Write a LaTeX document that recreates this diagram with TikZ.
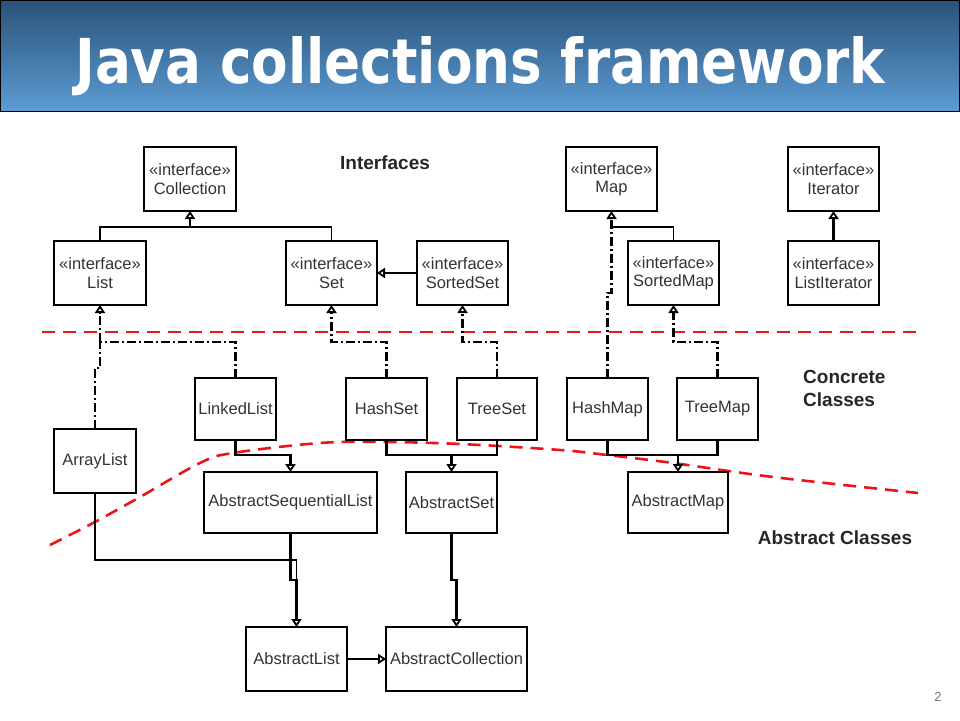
\documentclass[tikz,border=0pt]{standalone}
\usepackage{fontspec}
\setmainfont{Liberation Sans}
\newfontfamily\titlefont{DejaVu Sans}
\usetikzlibrary{arrows.meta,calc}
\definecolor{tbtop}{RGB}{42,82,120}
\definecolor{tbbot}{RGB}{92,156,212}
\definecolor{sepred}{RGB}{235,20,25}
\begin{document}
\begin{tikzpicture}[x=1pt,y=-1pt,
  box/.style={draw, line width=2.4pt, inner sep=0pt, outer sep=0pt, align=center,
    font=\fontsize{16.5}{18.5}\selectfont, text=black!80},
  tip/.style={-{Triangle[open,length=8pt,width=10pt,line width=1.8pt]}},
  thinconn/.style={line width=1.4pt},
  thickconn/.style={line width=2.4pt},
  real/.style={line width=2.4pt, dash pattern=on 9pt off 3pt on 2pt off 3pt},
  sep/.style={sepred, line width=2.6pt, dash pattern=on 13pt off 8pt},
  lbl/.style={font=\bfseries\fontsize{19}{23}\selectfont, text=black!85, inner sep=0pt, align=left}]
\useasboundingbox (0,0) rectangle (960,720);
% title bar
\shade[top color=tbtop, bottom color=tbbot] (0,0) rectangle (959,111);
\draw[line width=1pt] (0.5,0.5) rectangle (959.5,111);
\node[anchor=base west, text=white, inner sep=0pt] (title) at (75,83)
  {\resizebox{810pt}{47pt}{\titlefont\bfseries Java collections framework}};
\node[text=black!55, font=\fontsize{13}{15}\selectfont, inner sep=0pt] (pg) at (938,697) {2};
% separators
\draw[sep] (42,332) -- (918,332);
\draw[sep] plot[smooth, tension=0.6] coordinates {(50,545) (93,523) (140,497) (200,463) (233,453) (320,443) (383,442) (460,444) (560,450) (607,455) (673,463) (773,477) (918,493)};
% section labels
\node[lbl] (lint) at (385,163) {Interfaces};
\node[lbl, anchor=west] (lconc) at (803,388) {Concrete\\Classes};
\node[lbl] (labs) at (835,538) {Abstract Classes};
% interfaces
\node[box, minimum width=92pt, minimum height=64pt] (coll) at (190,179) {«interface»\\Collection};
\node[box, minimum width=92pt, minimum height=64pt] (list) at (100,273) {«interface»\\List};
\node[box, minimum width=91pt, minimum height=64pt] (set) at (331.5,273) {«interface»\\Set};
\node[box, minimum width=91pt, minimum height=64pt] (sset) at (462.5,273) {«interface»\\SortedSet};
\node[box, minimum width=91pt, minimum height=64pt] (map) at (611.5,179) {«interface»\\Map};
\node[box, minimum width=91pt, minimum height=64pt] (smap) at (673.5,273) {«interface»\\SortedMap};
\node[box, minimum width=91pt, minimum height=64pt] (iter) at (833.5,179) {«interface»\\Iterator};
\node[box, minimum width=91pt, minimum height=64pt] (liter) at (833.5,273) {«interface»\\ListIterator};
% concrete classes
\node[box, minimum width=81pt, minimum height=62pt] (ll) at (235.5,409) {LinkedList};
\node[box, minimum width=82pt, minimum height=64pt] (arl) at (95,461) {ArrayList};
\node[box, minimum width=81pt, minimum height=62pt] (hs) at (386.5,409) {HashSet};
\node[box, minimum width=80pt, minimum height=62pt] (ts) at (497,409) {TreeSet};
\node[box, minimum width=81pt, minimum height=62pt] (hm) at (607.5,409) {HashMap};
\node[box, minimum width=81pt, minimum height=62pt] (tm) at (717.5,409) {TreeMap};
% abstract classes
\node[box, minimum width=173pt, minimum height=61pt] (asl) at (290.5,502.5) {AbstractSequentialList};
\node[box, minimum width=91pt, minimum height=61pt] (aset) at (451.5,502.5) {AbstractSet};
\node[box, minimum width=100pt, minimum height=61pt] (amap) at (678,502.5) {AbstractMap};
\node[box, minimum width=101pt, minimum height=64pt] (alist) at (296.5,659) {AbstractList};
\node[box, minimum width=141pt, minimum height=64pt] (acoll) at (456.5,659) {AbstractCollection};
% helper coordinates
\coordinate (cj) at (190,227);
\coordinate (mj) at (611.5,227);
\coordinate (lj) at (100,342);
\coordinate (aj) at (0,455);
\coordinate (bj) at (0,560);
% interface inheritance
\draw[thinconn] (list.north) |- (cj);
\draw[thinconn] (set.north) |- (cj);
\draw[thinconn, tip] (cj) -- (coll.south);
\draw[thickconn, tip] (sset.west) -- (set.east);
\draw[thinconn] (smap.north) |- (mj);
\draw[thickconn, tip] (liter.north) -- (iter.south);
% realizations
\draw[real] (ll.north) |- (lj);
\draw[real] (arl.north) -- ++(0,-61) -| (lj);
\draw[real, tip] (lj) -- (list.south);
\draw[real, tip] (hs.north) |- (set.south |- lj) -- (set.south);
\draw[real, tip] (ts.north) |- (sset.south |- lj) -- (sset.south);
\draw[real, tip] (tm.north) |- (smap.south |- lj) -- (smap.south);
\draw[real, tip] (hm.north) -- ++(0,-85) -| (map.south);
% concrete -> abstract
\draw[thickconn, tip] (ll.south) |- (asl.north |- aj) -- (asl.north);
\draw[thickconn] (hs.south) |- (ts.south |- aj) -- (ts.south);
\draw[thickconn, tip] (aset.north |- aj) -- (aset.north);
\draw[thickconn] (hm.south) |- (tm.south |- aj) -- (tm.south);
\draw[thickconn, tip] (amap.north |- aj) -- (amap.north);
% abstract -> abstract
\draw[thinconn] (arl.south) |- (alist.north |- bj) -- ++(0,20);
\draw[thickconn, tip] (asl.south) -- ++(0,47) -| (alist.north);
\draw[thickconn, tip] (aset.south) -- ++(0,47) -| (acoll.north);
\draw[thickconn, tip] (alist.east) -- (acoll.west);
\end{tikzpicture}
\end{document}
